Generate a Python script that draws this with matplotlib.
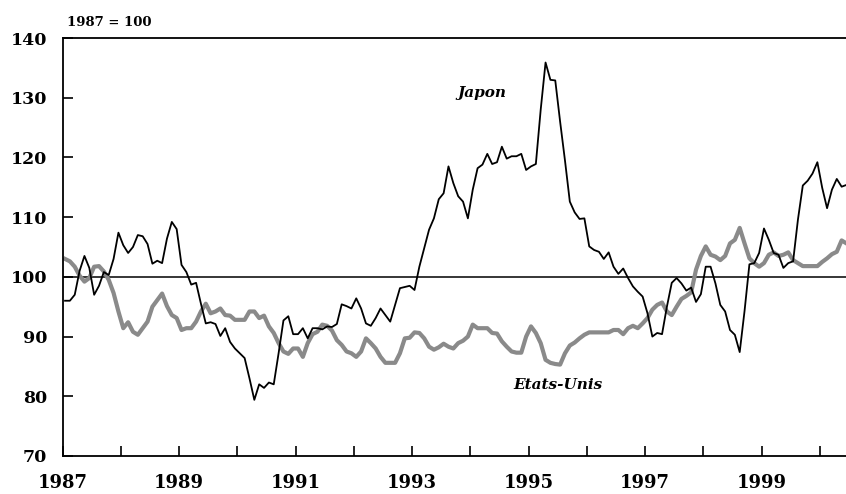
import numpy as np
import matplotlib
matplotlib.use("Agg")
import matplotlib.pyplot as plt

# monthly index, 1987 = 100, Jan 1987 .. Jun 2000
japon = [96, 96, 97, 101, 103.5, 101.5, 97, 98.5, 100.8, 100.3, 103, 107.4,
         105.3, 104, 105, 107, 106.8, 105.5, 102.2, 102.7, 102.3, 106.4, 109.2, 108,
         102, 100.8, 98.7, 99, 95.5, 92.2, 92.4, 92.1, 90.1, 91.4, 89.1, 88,
         87.2, 86.4, 83, 79.4, 82, 81.4, 82.3, 82, 87.2, 92.7, 93.4, 90.4,
         90.4, 91.4, 89.7, 91.4, 91.4, 91.2, 91.7, 91.6, 92.1, 95.4, 95.1, 94.7,
         96.4, 94.7, 92.2, 91.8, 93.1, 94.7, 93.6, 92.5, 95.3, 98.1, 98.3, 98.5,
         97.8, 101.7, 104.8, 107.9, 109.8, 113, 114, 118.5, 115.7, 113.5, 112.6, 109.8,
         114.6, 118.2, 118.8, 120.6, 118.9, 119.2, 121.8, 119.8, 120.2, 120.2, 120.6, 117.9,
         118.5, 118.9, 128, 135.9, 133, 132.9, 126, 119.5, 112.6, 110.8, 109.7, 109.8,
         105.1, 104.5, 104.2, 103, 104.1, 101.7, 100.5, 101.4, 99.8, 98.4, 97.5, 96.7,
         93.9, 90, 90.6, 90.4, 95, 99, 99.8, 98.9, 97.7, 98.2, 95.8, 97.1,
         101.7, 101.7, 98.9, 95.3, 94.2, 91.1, 90.3, 87.4, 94.3, 102.1, 102.3, 104,
         108.1, 106.2, 104, 103.7, 101.5, 102.3, 102.6, 109.6, 115.3, 116.1, 117.3, 119.2,
         114.9, 111.5, 114.6, 116.4, 115.1, 115.4]

etats_unis = [103, 102.6, 101.7, 100.2, 99.2, 99.8, 101.7, 101.8, 100.9, 99.5, 97.3, 94.2,
              91.4, 92.4, 90.8, 90.3, 91.4, 92.5, 95, 96.1, 97.2, 95.1, 93.6, 93.1,
              91.1, 91.4, 91.4, 92.5, 94.2, 95.5, 93.9, 94.2, 94.7, 93.6, 93.5, 92.8,
              92.8, 92.8, 94.2, 94.2, 93.1, 93.5, 91.7, 90.6, 88.9, 87.5, 87.1, 88,
              88, 86.6, 88.9, 90.4, 90.8, 92, 91.8, 91, 89.4, 88.6, 87.5, 87.2,
              86.6, 87.5, 89.7, 88.9, 88, 86.6, 85.6, 85.6, 85.6, 87.2, 89.7, 89.8,
              90.7, 90.6, 89.7, 88.3, 87.8, 88.2, 88.8, 88.3, 88, 88.9, 89.3, 90,
              92, 91.4, 91.4, 91.4, 90.6, 90.5, 89.2, 88.3, 87.5, 87.3, 87.3, 90,
              91.7, 90.6, 88.9, 86.1, 85.6, 85.4, 85.3, 87.2, 88.5, 89, 89.7, 90.3,
              90.7, 90.7, 90.7, 90.7, 90.7, 91.1, 91.1, 90.4, 91.4, 91.8, 91.4, 92.2,
              93.1, 94.5, 95.3, 95.7, 94.2, 93.6, 95, 96.3, 96.8, 97.4, 101.2, 103.5,
              105.1, 103.7, 103.4, 102.8, 103.5, 105.6, 106.2, 108.2, 105.6, 103.1, 102.3, 101.7,
              102.3, 103.7, 104.1, 103.5, 103.7, 104.1, 102.8, 102.3, 101.8, 101.8, 101.8, 101.8,
              102.5, 103.1, 103.8, 104.2, 106.1, 105.6]

year_labels = ["1987", "1989", "1991", "1993", "1995", "1997", "1999"]

t = 1987 + (np.arange(len(japon)) + 0.5) / 12

plt.rcParams['font.family'] = ['DejaVu Serif']
plt.rcParams['font.weight'] = 'bold'

fig = plt.figure(figsize=(8.46, 4.94), dpi=100)
ax = fig.add_axes([0.074, 0.077, 0.926, 0.846])

ax.axhline(100, color='black', lw=1.1, zorder=1)
ax.plot(t, etats_unis, color='#8a8a8a', lw=3.0, zorder=2)
ax.plot(t, japon, color='black', lw=1.3, zorder=3)

ax.set_xlim(1987, 2000.45)
ax.set_ylim(70, 140)
ax.set_xticks(range(1987, 2001))
ax.set_xticklabels([str(y) if str(y) in year_labels else "" for y in range(1987, 2001)])
ax.set_yticks(range(70, 141, 10))

ax.tick_params(direction='in', length=7, width=1.2, labelsize=12.5, colors='black')
ax.tick_params(axis='x', pad=13, labelsize=13)
ax.tick_params(axis='y', pad=11)
for lab in ax.get_xticklabels() + ax.get_yticklabels():
    lab.set_fontweight('bold')

ax.spines['right'].set_visible(False)
for s in ['left', 'bottom', 'top']:
    ax.spines[s].set_linewidth(1.3)

ax.text(1994.2, 130.8, "Japon", style='italic', fontweight='bold', fontsize=11,
        ha='center', va='center')
ax.text(1995.5, 81.9, "Etats-Unis", style='italic', fontweight='bold', fontsize=11,
        ha='center', va='center')
fig.text(0.079, 0.955, "1987 = 100", fontsize=9.5, fontweight='bold', ha='left', va='center')

fig.savefig("out.png", dpi=100)
